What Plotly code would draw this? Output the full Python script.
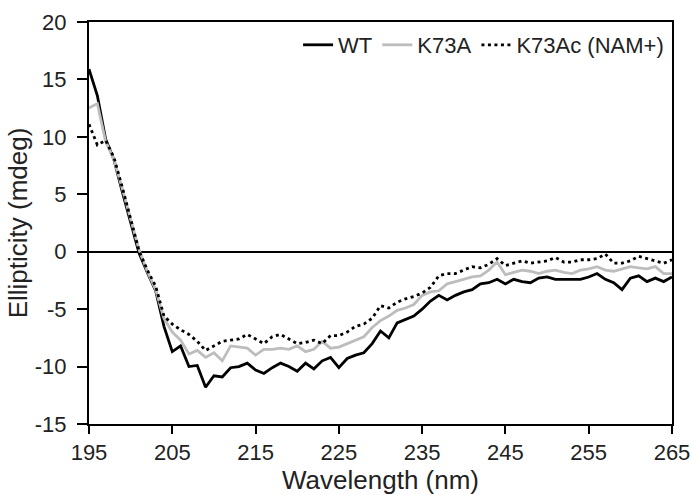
import plotly.graph_objects as go

wavelength = list(range(195, 266))

wt = [15.9, 13.6, 9.8, 8.0, 5.2, 2.5, -0.1, -1.8, -3.4, -6.5,
      -8.7, -8.2, -10.0, -9.9, -11.8, -10.8, -10.9, -10.1, -10.0, -9.7,
      -10.3, -10.6, -10.1, -9.7, -10.0, -10.4, -9.7, -10.2, -9.5, -9.2,
      -10.1, -9.3, -9.0, -8.8, -8.0, -6.9, -7.5, -6.2, -5.9, -5.6,
      -5.0, -4.3, -3.8, -4.2, -3.8, -3.5, -3.3, -2.8, -2.7, -2.4,
      -2.8, -2.4, -2.6, -2.7, -2.3, -2.2, -2.4, -2.4, -2.4, -2.4,
      -2.2, -1.9, -2.4, -2.7, -3.3, -2.3, -2.1, -2.6, -2.3, -2.6, -2.2]

k73a = [12.5, 12.9, 9.6, 8.0, 5.5, 2.9, 0.2, -1.7, -3.3, -5.8,
        -7.0, -7.7, -8.9, -8.6, -9.2, -8.8, -9.5, -8.2, -8.3, -8.4,
        -9.0, -8.5, -8.5, -8.4, -8.5, -8.2, -8.7, -8.5, -7.8, -8.4,
        -8.3, -8.0, -7.7, -7.4, -6.6, -6.0, -5.6, -5.1, -4.9, -4.6,
        -3.8, -3.5, -3.4, -2.8, -2.6, -2.4, -2.2, -2.1, -1.6, -0.9,
        -2.0, -1.8, -1.6, -1.7, -1.9, -1.7, -1.6, -1.8, -1.9, -1.6,
        -1.5, -1.3, -1.6, -1.7, -1.5, -1.3, -1.4, -1.5, -1.3, -1.9, -1.9]

k73ac = [11.1, 9.3, 9.7, 8.2, 5.6, 2.8, 0.1, -1.6, -3.0, -5.6,
         -6.3, -6.8, -7.2, -7.8, -8.6, -8.2, -7.8, -7.7, -7.6, -7.2,
         -7.6, -8.0, -7.4, -7.2, -7.6, -8.0, -7.9, -7.7, -8.0, -7.3,
         -7.3, -7.0, -6.5, -6.3, -5.8, -4.7, -4.9, -4.4, -4.1, -3.9,
         -3.6, -3.1, -2.1, -1.9, -1.9, -1.6, -1.3, -1.4, -1.1, -0.6,
         -1.2, -1.0, -0.8, -1.0, -0.9, -0.8, -0.5, -0.9, -0.9, -0.7,
         -0.7, -0.6, -0.2, -1.0, -1.0, -0.8, -0.4, -0.6, -0.8, -1.0, -0.7]

x_ticks = [195, 205, 215, 225, 235, 245, 255, 265]
y_ticks = [-15, -10, -5, 0, 5, 10, 15, 20]

FONT = "Liberation Sans, Arial, sans-serif"

fig = go.Figure()
fig.add_trace(go.Scatter(x=wavelength, y=wt, mode="lines", name="WT",
                         line=dict(color="black", width=2.8)))
fig.add_trace(go.Scatter(x=wavelength, y=k73a, mode="lines", name="K73A",
                         line=dict(color="#bdbdbd", width=2.8)))
fig.add_trace(go.Scatter(x=wavelength, y=k73ac, mode="lines", name="K73Ac (NAM+)",
                         line=dict(color="black", width=2.8, dash="3px,3.5px")))

fig.update_layout(
    width=694, height=495,
    margin=dict(l=89, r=22, t=22, b=71),
    paper_bgcolor="white", plot_bgcolor="white",
    font=dict(family=FONT, size=22, color="#222"),
    showlegend=True,
    legend=dict(orientation="h", x=0.995, y=0.995, xanchor="right", yanchor="top",
                bgcolor="rgba(0,0,0,0)", font=dict(size=22),
                itemwidth=30, tracegroupgap=0),
)
fig.update_xaxes(range=[195, 265], tickvals=x_ticks, ticktext=[str(v) for v in x_ticks],
                 showline=True, linecolor="black", linewidth=2, mirror=True,
                 ticks="outside", ticklen=8, tickwidth=2, tickcolor="black",
                 showgrid=False, zeroline=False, automargin=False,
                 title=dict(text="Wavelength (nm)", standoff=4))
fig.update_yaxes(range=[-15, 20], tickvals=y_ticks, ticktext=[str(v) for v in y_ticks],
                 showline=True, linecolor="black", linewidth=2, mirror=True,
                 ticks="outside", ticklen=10, tickwidth=2, tickcolor="black",
                 ticklabelstandoff=6,
                 showgrid=False, zeroline=True, zerolinecolor="black", zerolinewidth=2,
                 automargin=False,
                 title=dict(text="Ellipticity (mdeg)", standoff=0))

fig.write_html("out.html")
